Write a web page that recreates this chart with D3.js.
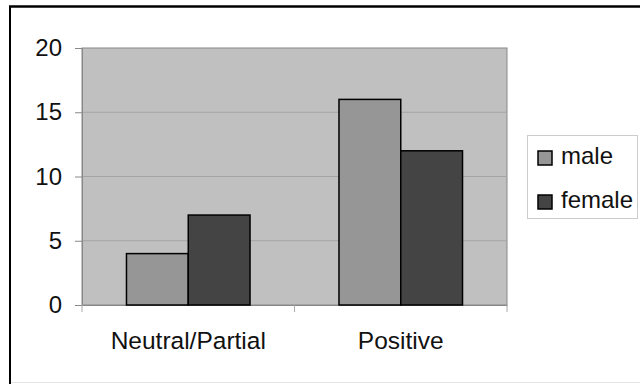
<!DOCTYPE html>
<html><head><meta charset="utf-8">
<script src="https://cdn.jsdelivr.net/npm/d3@7"></script>
<style>body{margin:0;background:#fff}svg{display:block}</style>
</head><body><svg id="c" width="640" height="384"></svg>
<script>
const categories = ["Neutral/Partial", "Positive"];
const seriesNames = ["male", "female"];
const male = [4, 16];
const female = [7, 12];
const yTicks = [0, 5, 10, 15, 20];
const colors = {male: "#969696", female: "#444444"};

const svg = d3.select("#c");
const font = "Arial, 'Liberation Sans', sans-serif";
// outer frame
svg.append("line").attr("x1", 9).attr("x2", 640).attr("y1", 6.5).attr("y2", 6.5).attr("stroke", "#000").attr("stroke-width", 2.5);
svg.append("line").attr("x1", 10).attr("x2", 10).attr("y1", 6).attr("y2", 384).attr("stroke", "#000").attr("stroke-width", 2);
svg.append("line").attr("x1", 11).attr("x2", 640).attr("y1", 382.5).attr("y2", 382.5).attr("stroke", "#e4e4e4").attr("stroke-width", 1);

const L = 82, R = 507, T = 48, B = 305;
const x = d3.scaleBand().domain(categories).range([L, R]);
const y = d3.scaleLinear().domain([0, 20]).range([B, T]);
const xs = d3.scaleBand().domain(seriesNames).range([0, x.bandwidth()]).paddingInner(0).paddingOuter(0.72);

svg.append("rect").attr("x", L).attr("y", T).attr("width", R - L).attr("height", B - T)
  .attr("fill", "#c0c0c0").attr("stroke", "#888").attr("stroke-width", 1);

svg.append("g").selectAll("line").data(yTicks.filter(d => d > 0 && d < 20)).join("line")
  .attr("x1", L).attr("x2", R).attr("y1", d => y(d)).attr("y2", d => y(d))
  .attr("stroke", "#a4a4a4").attr("stroke-width", 1);

const yAxis = svg.append("g").attr("transform", `translate(${L},0)`)
  .call(d3.axisLeft(y).tickValues(yTicks).tickSize(7).tickPadding(13));
yAxis.select(".domain").attr("stroke", "#888");
yAxis.selectAll(".tick line").attr("stroke", "#888");
yAxis.selectAll("text").attr("font-family", font).attr("font-size", 24).attr("fill", "#111");

const xAxis = svg.append("g").attr("transform", `translate(0,${B})`)
  .call(d3.axisBottom(x).tickSize(0).tickPadding(27));
xAxis.select(".domain").attr("stroke", "#888");
xAxis.selectAll("text").attr("font-family", font).attr("font-size", 24.5).attr("fill", "#111");
svg.append("g").selectAll("line").data([L, L + x.step(), R]).join("line")
  .attr("x1", d => d).attr("x2", d => d).attr("y1", B).attr("y2", B + 7).attr("stroke", "#aaa");

const data = categories.map((c, i) => ({c, vals: [{s: "male", v: male[i]}, {s: "female", v: female[i]}]}));
const g = svg.append("g");
data.forEach(d => {
  g.selectAll(null).data(d.vals).join("rect")
    .attr("x", v => x(d.c) + xs(v.s)).attr("width", xs.bandwidth())
    .attr("y", v => y(v.v)).attr("height", v => y(0) - y(v.v))
    .attr("fill", v => colors[v.s]).attr("stroke", "#000").attr("stroke-width", 1.5);
});

const lg = svg.append("g");
lg.append("rect").attr("x", 527.5).attr("y", 135.5).attr("width", 110).attr("height", 83)
  .attr("fill", "#fff").attr("stroke", "#ccc");
seriesNames.forEach((s, i) => {
  const top = 151 + i * 44;
  lg.append("rect").attr("x", 538).attr("y", top).attr("width", 14).attr("height", 14)
    .attr("fill", colors[s]).attr("stroke", "#000").attr("stroke-width", 1.5);
  lg.append("text").attr("x", 561).attr("y", top + 13).text(s)
    .attr("font-family", font).attr("font-size", 24).attr("fill", "#111");
});
</script></body></html>
